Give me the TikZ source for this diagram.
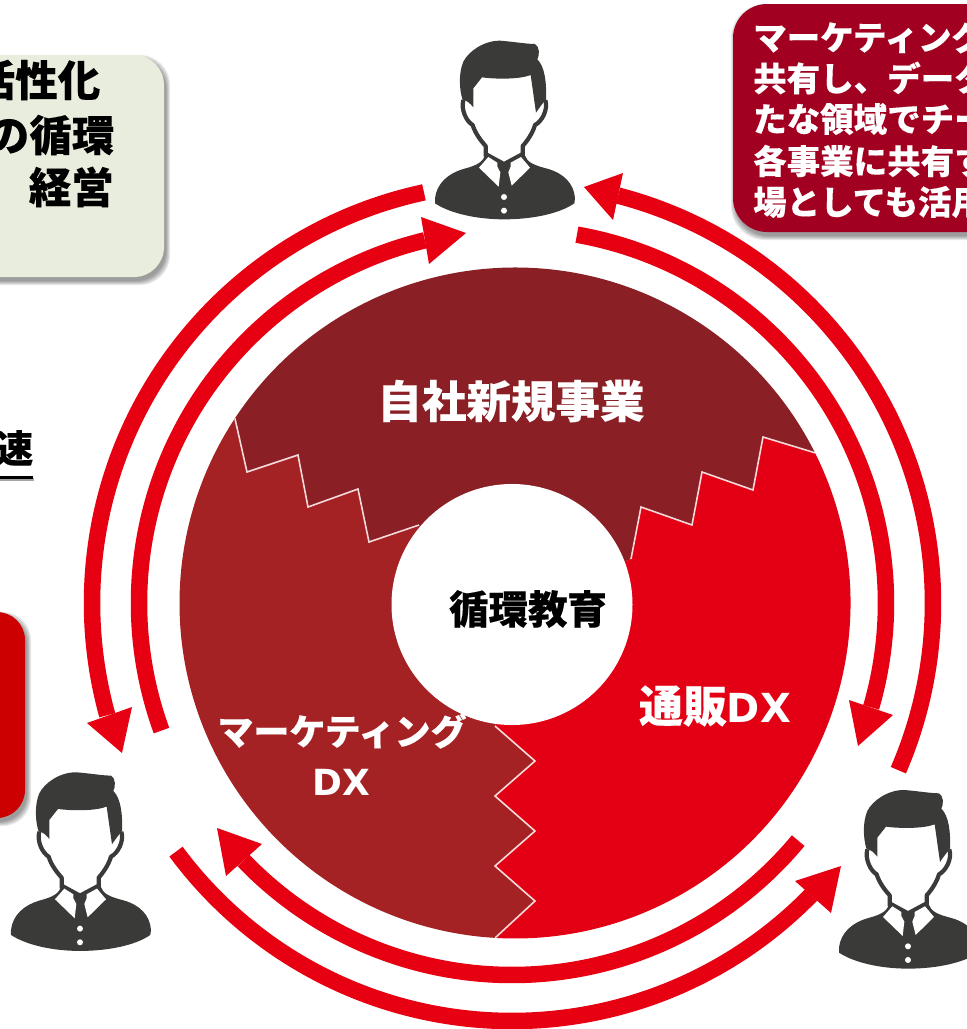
\documentclass[tikz,border=0pt]{standalone}
\usepackage{fontspec}
\setmainfont{Noto Sans CJK JP}[BoldFeatures={FakeBold=0.2}]
\newfontfamily\latinface{DejaVu Sans}
\definecolor{arrowred}{HTML}{E60012}
\definecolor{wedgetop}{HTML}{8A2025}
\definecolor{wedgeleft}{HTML}{A52224}
\definecolor{wedgeright}{HTML}{E40014}
\definecolor{zigline}{HTML}{F4DADA}
\definecolor{persondark}{HTML}{3A3A38}
\definecolor{paleboxfill}{HTML}{E9EDDD}
\definecolor{crimsonbox}{HTML}{A20020}
\definecolor{redbox}{HTML}{CC0000}
\tikzset{
  arrowband/.style={draw=arrowred,line width=16.5pt,line cap=butt},
  arrowtip/.style={fill=arrowred,draw=none},
  zigzag/.style={draw=zigline,line width=1.6pt,line join=miter},
  softshade/.style={fill=black,draw=none,opacity=0.09},
  wlabel/.style={text=white,font=\bfseries\fontsize{#1}{#1}\selectfont,inner sep=0pt},
  klabel/.style={text=black,font=\bfseries\fontsize{#1}{#1}\selectfont,inner sep=0pt},
}
% radius, start angle, end angle, tip, barb, barb
\newcommand{\ringarrow}[6]{%
  \draw[arrowband,shift={(512,603)}] (#2:#1) arc[start angle=#2,end angle=#3,radius=#1];
  \fill[arrowtip] #4 -- #5 -- #6 -- cycle;
}
\newcommand{\softbox}[6]{% x0,y0,x1,y1,radius,colour
  \foreach \e in {4,3,2,1,0}{
    \fill[softshade,rounded corners=#5pt,shift={(2,4)}] (#1-\e,#2-\e) rectangle (#3+\e,#4+\e);
  }
  \fill[#6,rounded corners=#5pt] (#1,#2) rectangle (#3,#4);
}
\newcommand{\businessman}[2]{%
  \begin{scope}[shift={(#1,#2)},x=0.33333pt,y=-0.33333pt]
    \fill[persondark] (128,240) .. controls (118,210) and (115,160) .. (130,125)
      .. controls (145,95) and (190,62) .. (240,62)
      .. controls (280,65) and (320,72) .. (345,72)
      .. controls (358,78) and (360,105) .. (352,118)
      .. controls (375,140) and (380,190) .. (378,238)
      .. controls (372,245) and (360,260) .. (348,278)
      -- (332,165) .. controls (300,178) and (230,178) .. (186,172)
      -- (160,205) -- (160,262)
      .. controls (150,250) and (140,240) .. (128,240) -- cycle;
    \draw[persondark,line width=4.2pt,line join=round]
      (130,240) .. controls (122,270) and (140,305) .. (158,315)
      .. controls (165,340) and (185,365) .. (197,378) -- (197,410);
    \draw[persondark,line width=4.2pt,line join=round]
      (376,240) .. controls (385,270) and (365,305) .. (345,315)
      .. controls (338,340) and (320,365) .. (308,378) -- (308,410);
    \fill[persondark] (45,535) .. controls (50,490) and (85,460) .. (130,447)
      .. controls (155,440) and (185,432) .. (193,410)
      -- (197,395) -- (252,425) -- (308,395) -- (318,412)
      .. controls (325,432) and (360,440) .. (385,447)
      .. controls (430,460) and (462,490) .. (465,535)
      -- (463,550) .. controls (420,580) and (340,598) .. (252,598)
      .. controls (170,598) and (90,580) .. (45,550) -- cycle;
    \fill[white] (177,443) -- (205,411) -- (232,428) -- (232,440) -- (241,457) -- (236,500) -- cycle;
    \fill[white] (330,443) -- (303,411) -- (272,428) -- (272,440) -- (265,457) -- (275,497) -- cycle;
    \fill[white] (252,531) circle[radius=9];
    \fill[white] (252,572) circle[radius=9];
  \end{scope}
}
\begin{document}
\begin{tikzpicture}[x=1pt,y=-1pt]
  \useasboundingbox (0,0) rectangle (967,1029);
  \clip (0,0) rectangle (967,1029);
  \fill[white] (0,0) rectangle (967,1029);

  % side boxes
  \softbox{-40}{55}{164}{277}{30}{paleboxfill}
  \softbox{-60}{612}{25}{818}{28}{redbox}
  \softbox{733}{4}{1020}{232}{34}{crimsonbox}

  % ring of three wedges
  \begin{scope}[shift={(515,603)}]
    \fill[wedgetop] (-146.6:335.5) arc[start angle=-146.6,end angle=-26.6,radius=335.5]
      -- (248,-166) -- (238,-113) -- (187,-131) -- (177,-78) -- (126,-96) -- (116,-44)
      -- (0,0)
      -- (-96,-78) -- (-146,-61) -- (-157,-114) -- (-207,-96) -- (-217,-148) -- (-268,-131) -- cycle;
    \fill[wedgeright] (-26.6:335.5) arc[start angle=-26.6,end angle=93.4,radius=335.5]
      -- (20,298) -- (-20,263) -- (20,228) -- (-20,193) -- (20,158) -- (-20,123)
      -- (0,0) -- (116,-44)
      -- (126,-96) -- (177,-78) -- (187,-131) -- (238,-113) -- (248,-166) -- cycle;
    \fill[wedgeleft] (93.4:335.5) arc[start angle=93.4,end angle=213.4,radius=335.5]
      -- (-268,-131) -- (-217,-148) -- (-207,-96) -- (-157,-114) -- (-146,-61) -- (-96,-78)
      -- (0,0) -- (-20,123) -- (20,158) -- (-20,193) -- (20,228) -- (-20,263) -- (20,298) -- cycle;
    \draw[zigzag] (213.4:335.5) -- (-268,-131) -- (-217,-148) -- (-207,-96) -- (-157,-114) -- (-146,-61) -- (-96,-78);
    \draw[zigzag] (-26.6:335.5) -- (248,-166) -- (238,-113) -- (187,-131) -- (177,-78) -- (126,-96) -- (116,-44);
    \draw[zigzag] (93.4:335.5) -- (20,298) -- (-20,263) -- (20,228) -- (-20,193) -- (20,158) -- (-20,123);
  \end{scope}
  \fill[white] (512,604.5) circle[radius=120.5];

  % ring arrows
  \ringarrow{421}{23.4}{-75.4}{(584,187)}{(623,173)}{(613,220)}
  \ringarrow{374}{-80}{16.2}{(858,746)}{(849,700)}{(893,715)}
  \ringarrow{420}{-102.1}{-195.5}{(122,753)}{(87,723)}{(132,707)}
  \ringarrow{373}{-200}{-103.5}{(466,233)}{(421,217)}{(429,264)}
  \ringarrow{418}{-216.5}{-315.7}{(841,866)}{(795,881)}{(831,913)}
  \ringarrow{372}{39.7}{136.2}{(217,828)}{(262,844)}{(226,876)}

  % people
  \businessman{420}{20}
  \businessman{-4}{751.6}
  \businessman{824}{769.3}

  % wedge labels
  \node[wlabel=44.5] (topwedge) at (511,401) {自社新規事業};
  \node[klabel=39.5] (hub) at (528,609) {循環教育};
  \node[wlabel=44] (rightwedge) at (715,706) {通販{\latinface\fontsize{40}{40}\selectfont DX}};
  \node[wlabel=36] (leftwedgea) at (342,731) {マーケティング};
  \node[wlabel=36] (leftwedgeb) at (341,782) {\latinface DX};

  % left box text
  \node[klabel=42.5,anchor=east] (ltxta) at (100.5,80) {活性化};
  \node[klabel=42.5,anchor=east] (ltxtb) at (114.5,135) {の循環};
  \node[klabel=42.5,anchor=east] (ltxtc) at (114,187) {経営};

  % cropped underlined word
  \node[klabel=38,anchor=east] (speedword) at (33.5,448) {速};
  \draw[black!35,line width=3pt] (0,479) -- (34,479);
  \draw[black,line width=3pt] (0,477) -- (33,477);

  % top right box text
  \node[wlabel=33.5,anchor=west] (rtxta) at (753,37) {マーケティング};
  \node[wlabel=33.5,anchor=west] (rtxtb) at (753,78) {共有し、データ};
  \node[wlabel=33.5,anchor=west] (rtxtc) at (753,119) {たな領域でチー};
  \node[wlabel=33.5,anchor=west] (rtxtd) at (753,161) {各事業に共有す};
  \node[wlabel=33.5,anchor=west] (rtxte) at (753,202) {場としても活用};
\end{tikzpicture}
\end{document}
